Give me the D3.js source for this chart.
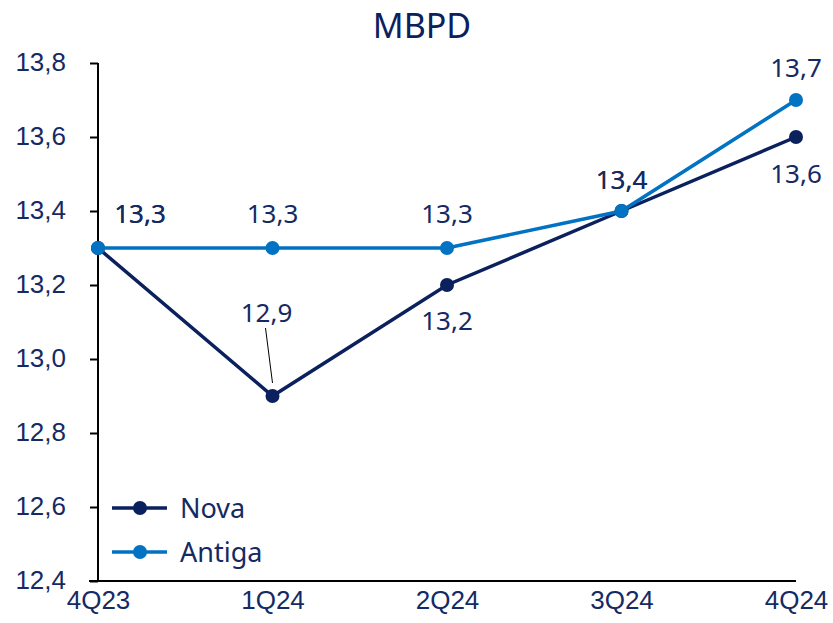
<!DOCTYPE html>
<html>
<head>
<meta charset="utf-8">
<style>
  body { margin: 0; background: #fff; }
  svg { font-family: 'Noto Sans', Roboto, sans-serif; }
</style>
</head>
<body>
<svg width="833" height="623"></svg>
<script src="https://d3js.org/d3.v7.min.js"></script>
<script>
  // chart data
  const quarters = ["4Q23", "1Q24", "2Q24", "3Q24", "4Q24"];
  const novaValues = [13.3, 12.9, 13.2, 13.4, 13.6];
  const antigaValues = [13.3, 13.3, 13.3, 13.4, 13.7];
  const yTicks = [12.4, 12.6, 12.8, 13.0, 13.2, 13.4, 13.6, 13.8];

  const navy = "#0b215e";
  const blue = "#0272c2";
  const textColor = "#152a63";

  const svg = d3.select("svg");
  const fmt = v => d3.format(".1f")(v).replace(".", ",");

  const x = d3.scalePoint().domain(quarters).range([98, 796]).padding(0);
  const y = d3.scaleLinear().domain([12.4, 13.8]).range([581, 63]);

  // title (only the unit line is visible)
  svg.append("text")
    .attr("x", 422).attr("y", 38)
    .attr("text-anchor", "middle")
    .style("font-size", "34px")
    .style("fill", navy)
    .text("MBPD");

  // y axis
  const yAxis = svg.append("g")
    .attr("transform", "translate(98,0)")
    .call(d3.axisLeft(y).tickValues(yTicks).tickSize(8).tickPadding(24).tickFormat(fmt));
  yAxis.select(".domain").attr("stroke", "#000").attr("stroke-width", 2).attr("d", "M0,63V581");
  yAxis.selectAll(".tick line").attr("stroke", "#000").attr("stroke-width", 2);
  yAxis.selectAll(".tick text").style("font-size", "26px").style("fill", textColor).attr("dy", "0.3em");

  // x axis
  const xAxis = svg.append("g")
    .attr("transform", "translate(0,581)")
    .call(d3.axisBottom(x).tickSize(0).tickPadding(14));
  xAxis.select(".domain").attr("stroke", "#000").attr("stroke-width", 2).attr("d", "M89,0H796");
  xAxis.selectAll(".tick text").style("font-size", "26px").style("fill", textColor).attr("dy", "0.55em");

  const line = d3.line().x((d, i) => x(quarters[i])).y(d => y(d));

  function drawSeries(values, color) {
    svg.append("path")
      .datum(values)
      .attr("d", line)
      .attr("fill", "none")
      .attr("stroke", color)
      .attr("stroke-width", 3.5);
    svg.selectAll(null)
      .data(values)
      .join("circle")
      .attr("cx", (d, i) => x(quarters[i]))
      .attr("cy", d => y(d))
      .attr("r", 7)
      .attr("fill", color);
  }

  drawSeries(novaValues, navy);
  drawSeries(antigaValues, blue);

  // data labels: [series values, index, dx, dy]
  const labels = [
    [antigaValues, 0, 42, -34],
    [novaValues, 0, 42, -34],
    [antigaValues, 1, 0, -34],
    [antigaValues, 2, 0, -34],
    [antigaValues, 3, 0, -31],
    [novaValues, 3, 0, -31],
    [antigaValues, 4, 0, -32],
    [novaValues, 1, -6, -83],
    [novaValues, 2, 0, 36],
    [novaValues, 4, 0, 37]
  ];
  svg.selectAll(".lbl")
    .data(labels)
    .join("text")
    .attr("class", "lbl")
    .attr("x", d => x(quarters[d[1]]) + d[2])
    .attr("y", d => y(d[0][d[1]]) + d[3])
    .attr("text-anchor", "middle")
    .attr("dy", "0.36em")
    .style("font-size", "26px")
    .style("fill", textColor)
    .text(d => fmt(d[0][d[1]]));

  // leader line for 12,9
  svg.append("line")
    .attr("x1", x("1Q24") - 7).attr("y1", y(12.9) - 68)
    .attr("x2", x("1Q24")).attr("y2", y(12.9) - 13)
    .attr("stroke", "#000").attr("stroke-width", 1);

  // legend
  const legend = [["Nova", navy], ["Antiga", blue]];
  const lg = svg.selectAll(".leg")
    .data(legend)
    .join("g")
    .attr("class", "leg")
    .attr("transform", (d, i) => `translate(112,${508 + i * 44})`);
  lg.append("line").attr("x1", 0).attr("x2", 55).attr("stroke", d => d[1]).attr("stroke-width", 3.5);
  lg.append("circle").attr("cx", 28).attr("r", 7).attr("fill", d => d[1]);
  lg.append("text")
    .attr("x", 68).attr("dy", "0.36em")
    .style("font-size", "27px")
    .style("fill", textColor)
    .text(d => d[0]);
</script>
</body>
</html>
